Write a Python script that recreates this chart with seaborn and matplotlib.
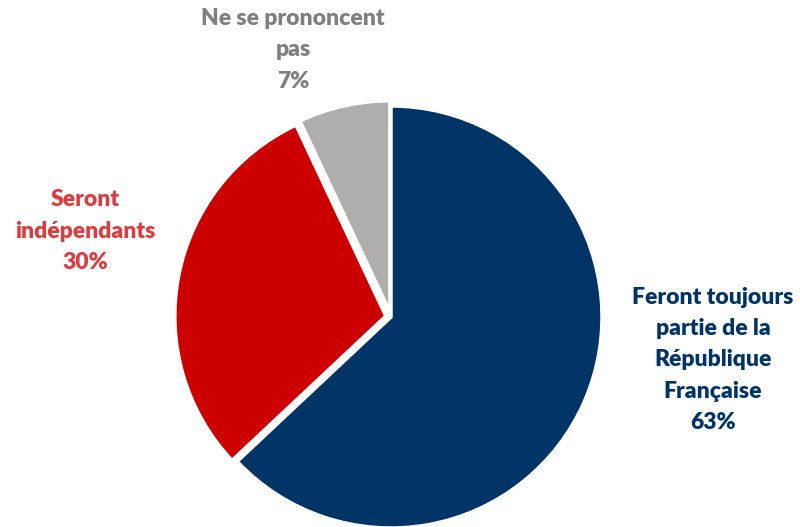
import matplotlib
matplotlib.use("Agg")
import matplotlib.pyplot as plt
import seaborn as sns

categories = ["Feront toujours\npartie de la\nRépublique\nFrançaise",
              "Seront\nindépendants",
              "Ne se prononcent\npas"]
values = [63, 30, 7]
slice_colors = ["#003366", "#cc0000", "#b0adad"]
label_colors = ["#003366", "#e0393e", "#7f7f7f"]

sns.set_theme(style="white")
plt.rcParams["font.family"] = ["Lato", "DejaVu Sans"]

fig = plt.figure(figsize=(8, 5.27), dpi=100)
ax = fig.add_axes([0, 0, 1, 1])
ax.pie(values, colors=slice_colors, startangle=90, counterclock=False,
       explode=[0.0, 0.025, 0.025], radius=1.0,
       wedgeprops=dict(edgecolor="white", linewidth=2.5))
ax.set_xlim(-391 / 211, (800 - 391) / 211)
ax.set_ylim(-(527 - 317) / 211, 317 / 211)
ax.set_aspect("equal")
ax.axis("off")

label_pos = [(713, 360), (85, 231), (293, 50)]
for cat, v, col, (px, py) in zip(categories, values, label_colors, label_pos):
    fig.text(px / 800, 1 - py / 527, f"{cat}\n{v}%", color=col,
             ha="center", va="center", fontsize=16.5, fontweight="heavy",
             linespacing=1.6)

fig.savefig("out.png", dpi=100)
